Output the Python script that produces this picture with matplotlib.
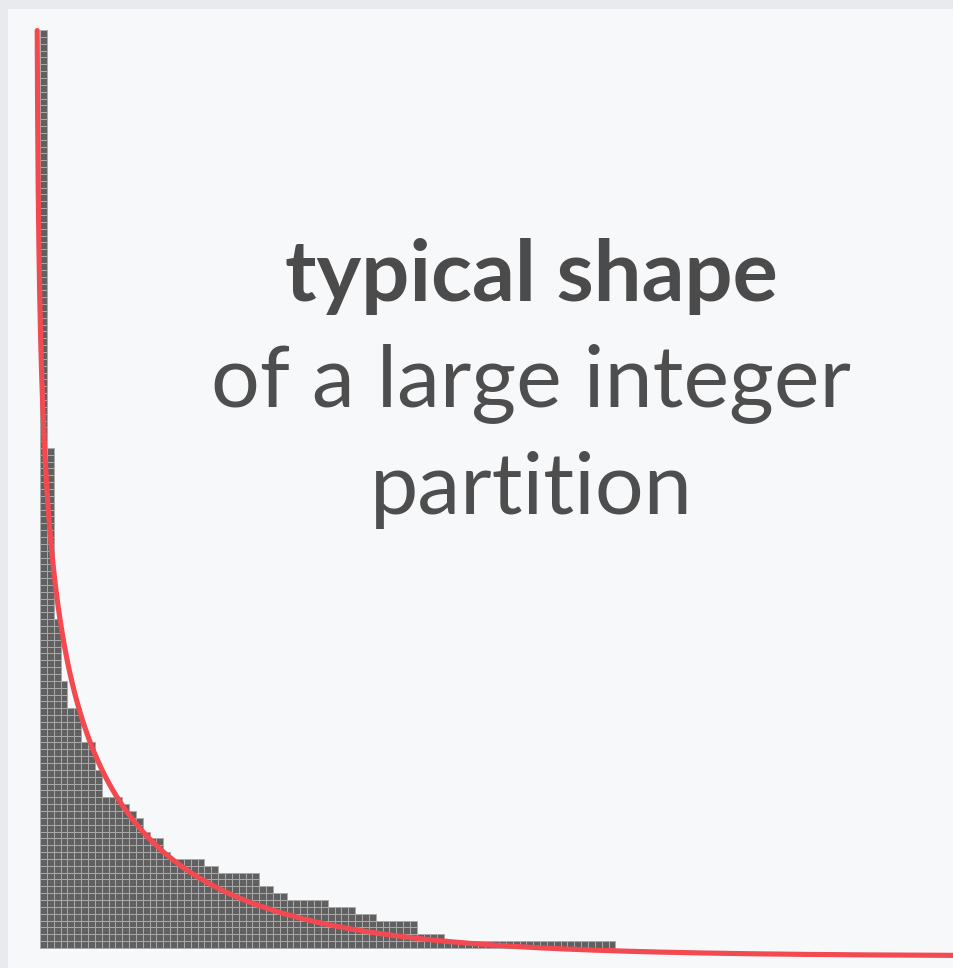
import numpy as np
import matplotlib.pyplot as plt
from matplotlib.patches import Rectangle
from matplotlib.collections import PatchCollection

# parts of the partition, bottom row first (row lengths in cells)
part_sizes = [84, 59, 55, 49, 46, 42, 36, 34, 32, 26, 24, 19, 18, 16, 15, 14, 13, 12,
              9, 8, 6, 4, 3, 2, 1]
part_counts = [1, 1, 2, 1, 1, 1, 1, 1, 2, 1, 1, 1, 2, 1, 2, 1, 1, 1,
               4, 4, 5, 4, 9, 25, 61]

parts = np.repeat(part_sizes, part_counts)
n = parts.sum()

fig = plt.figure(figsize=(9.54, 9.68), dpi=100)
fig.patch.set_facecolor('#e9eaee')
ax = fig.add_axes([0, 0, 1, 1])
ax.set_xlim(-5.84, 133.43)
ax.set_ylim(-2.92, 138.39)
ax.axis('off')

# lighter panel behind the diagram
ax.add_patch(Rectangle((0.008, 0), 0.992, 0.9907, transform=fig.transFigure,
                       facecolor='#f7f8fa', edgecolor='none', zorder=0))

# Ferrers diagram: one small square per cell
cells = []
for r, length in enumerate(parts):
    for c in range(length):
        cells.append(Rectangle((c, r), 1, 1))
ax.add_collection(PatchCollection(cells, facecolor='#606060', edgecolor='#aaaaaa',
                                  linewidth=0.7, zorder=2))

# limit shape exp(-c x/sqrt n) + exp(-c y/sqrt n) = 1, cut at the tallest column
a = np.pi / np.sqrt(6 * n)
v_top = len(parts) + 1.1
u_min = -np.log(1 - np.exp(-a * v_top)) / a
u = np.geomspace(u_min, 140, 3000)
v = -np.log(1 - np.exp(-a * u)) / a
ax.plot(u - 0.5, v - 1.17, color='#f24a50', linewidth=3.7, zorder=3,
        solid_capstyle='round')

ax.text(71.7, 98.0, 'typical shape', fontsize=61, fontweight='bold', family='Lato',
        color='#4b4b4b', ha='center', va='center')
ax.text(71.7, 82.5, 'of a large integer', fontsize=62, family='Lato', fontweight='normal',
        color='#4e4e4e', ha='center', va='center')
ax.text(71.7, 66.8, 'partition', fontsize=62, family='Lato', fontweight='normal',
        color='#4e4e4e', ha='center', va='center')

fig.savefig('out.png', dpi=100, facecolor=fig.get_facecolor())
